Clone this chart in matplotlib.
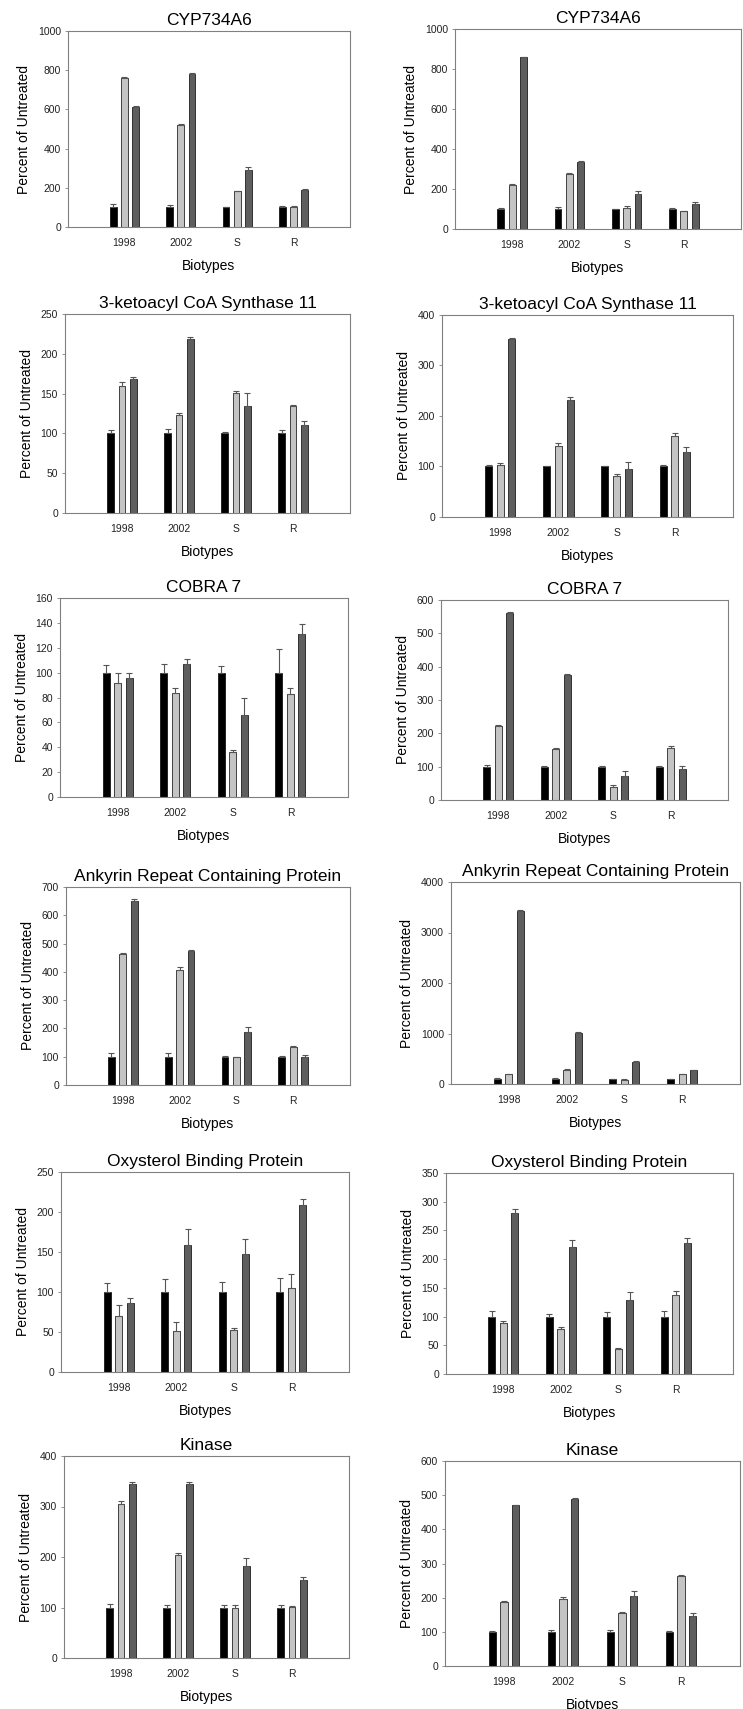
import numpy as np
import matplotlib
matplotlib.use("Agg")
import matplotlib.pyplot as plt

plt.rcParams['font.family'] = ['Liberation Sans', 'DejaVu Sans']

biotypes = ["1998", "2002", "S", "R"]

titles = ["CYP734A6", "CYP734A6",
          "3-ketoacyl CoA Synthase 11", "3-ketoacyl CoA Synthase 11",
          "COBRA 7", "COBRA 7",
          "Ankyrin Repeat Containing Protein", "Ankyrin Repeat Containing Protein",
          "Oxysterol Binding Protein", "Oxysterol Binding Protein",
          "Kinase", "Kinase"]

# each panel: three series (black, light gray, dark gray) over the 4 biotypes
black = [100, 100, 100, 100]
light = [
    [762, 522, 182, 100], [222, 276, 105, 90],
    [159, 123, 151, 134], [103, 141, 82, 161],
    [92, 84, 36, 83], [222, 153, 40, 156],
    [462, 408, 98, 136], [190, 285, 85, 195],
    [70, 51, 53, 105], [88, 79, 43, 137],
    [305, 203, 100, 101], [187, 196, 154, 262],
]
dark = [
    [612, 782, 290, 188], [860, 337, 177, 125],
    [168, 218, 134, 110], [353, 232, 96, 128],
    [96, 107, 66, 131], [562, 376, 73, 92],
    [650, 475, 186, 100], [3430, 1010, 440, 275],
    [86, 159, 148, 209], [280, 222, 129, 228],
    [345, 345, 183, 155], [470, 490, 205, 145],
]
black_err = [
    [15, 10, 2, 6], [3, 8, 2, 3],
    [4, 5, 2, 4], [2, 1, 1, 2],
    [6, 7, 5, 19], [5, 1, 1, 1],
    [12, 14, 3, 4], [10, 10, 5, 5],
    [11, 16, 12, 17], [9, 5, 8, 10],
    [6, 5, 4, 4], [3, 5, 5, 1],
]
light_err = [
    [3, 2, 2, 8], [3, 4, 12, 2],
    [5, 3, 2, 2], [3, 5, 3, 5],
    [8, 4, 2, 5], [3, 3, 5, 7],
    [3, 10, 2, 3], [10, 10, 10, 10],
    [14, 12, 2, 18], [4, 3, 3, 8],
    [5, 4, 4, 2], [2, 5, 4, 5],
]
dark_err = [
    [4, 4, 15, 4], [2, 2, 14, 10],
    [3, 3, 17, 6], [2, 5, 13, 10],
    [4, 4, 14, 8], [2, 2, 14, 10],
    [6, 4, 20, 7], [10, 10, 10, 10],
    [6, 20, 18, 7], [7, 11, 14, 9],
    [3, 4, 15, 6], [1, 3, 14, 10],
]
ymax = [1000, 1000, 250, 400, 160, 600, 700, 4000, 250, 350, 400, 600]
ystep = [200, 200, 50, 100, 20, 100, 100, 1000, 50, 50, 100, 100]

# axes boxes in pixels: left, right, top, bottom
boxes = [
    (68, 350, 31, 227), (455, 741, 29, 229),
    (65, 350, 314, 513), (442, 733, 315, 517),
    (60, 348, 598, 797), (441, 728, 600, 800),
    (66, 350, 887, 1085), (451, 740, 882, 1084),
    (61, 349, 1172, 1372), (446, 733, 1173, 1374),
    (64, 349, 1456, 1658), (445, 740, 1461, 1666),
]

W, H = 743, 1709
fig = plt.figure(figsize=(W / 100, H / 100), dpi=100)

x = np.arange(1, 5)
w = 0.12
off = 0.2
colors = ["#000000", "#c4c4c4", "#5e5e5e"]

for i in range(12):
    l, r, t, b = boxes[i]
    ax = fig.add_axes([l / W, 1 - b / H, (r - l) / W, (b - t) / H])
    series = [black, light[i], dark[i]]
    errs = [black_err[i], light_err[i], dark_err[i]]
    for k in range(3):
        ax.bar(x + (k - 1) * off, series[k], w, color=colors[k],
               edgecolor="#000000", linewidth=0.5,
               yerr=[np.zeros(4), errs[k]],
               error_kw=dict(ecolor="#555555", elinewidth=0.8, capsize=2, capthick=0.8))
    ax.set_xlim(0, 5)
    ax.set_ylim(0, ymax[i])
    ax.set_yticks(np.arange(0, ymax[i] + 1, ystep[i]))
    ax.set_xticks(x)
    ax.set_xticklabels(biotypes)
    ax.tick_params(axis="x", length=0, pad=8, labelsize=7.5, colors="#222222")
    ax.tick_params(axis="y", length=2, width=0.6, pad=3, labelsize=7.5,
                   colors="#222222", color="#808080")
    for s in ax.spines.values():
        s.set_color("#808080")
        s.set_linewidth(0.8)
    ax.set_title(titles[i], fontsize=12.5, pad=4)
    ax.set_ylabel("Percent of Untreated", fontsize=10, labelpad=5)
    ax.set_xlabel("Biotypes", fontsize=10, labelpad=8)

fig.savefig("out.png", dpi=100)
